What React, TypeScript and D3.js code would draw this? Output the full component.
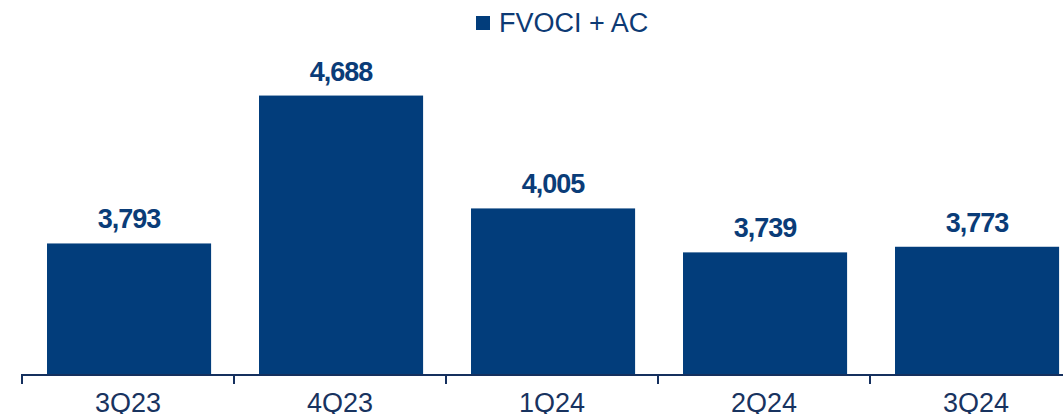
import React from "react";
import * as d3 from "d3";

const categories = ["3Q23", "4Q23", "1Q24", "2Q24", "3Q24"];
const values = [3793, 4688, 4005, 3739, 3773];
const seriesName = "FVOCI + AC";

const W = 1063;
const H = 414;
const BAR = "#023d7b";
const AXIS = "#15305e";
const FONT = "'Liberation Sans', Arial, sans-serif";

export default function App() {
  const x = d3
    .scaleBand<string>()
    .domain(categories)
    .range([22, 22 + 212 * categories.length])
    .paddingInner(0.226)
    .paddingOuter(0.113)
    .align(0.522);
  const y = d3.scaleLinear().domain([3000, 5000]).range([374.5, 44]);
  const fmt = d3.format(",");
  const step = x.step();
  const tickXs = categories.map((_, i) => 22 + step * i).concat([22 + step * categories.length]);

  return (
    <svg
      width={W}
      height={H}
      style={{ position: "absolute", left: 0, top: 0, background: "#fff" }}
      fontFamily={FONT}
    >
      {/* legend */}
      <rect x={476} y={16} width={14} height={14} fill={BAR} />
      <text x={499} y={32} fontSize={27} fill="#0d3a74">
        {seriesName}
      </text>

      {/* bars */}
      {categories.map((c, i) => (
        <g key={c}>
          <rect
            x={x(c)!}
            y={y(values[i])}
            width={x.bandwidth()}
            height={y(3000) - y(values[i])}
            fill={BAR}
          />
          <text
            x={x(c)! + x.bandwidth() / 2}
            y={y(values[i]) - 15}
            textAnchor="middle"
            fontSize={27}
            fontWeight="bold"
            letterSpacing={-1}
            fill="#0a3c78"
          >
            {fmt(values[i])}
          </text>
          <text
            x={22 + step * i + step / 2}
            y={412}
            textAnchor="middle"
            fontSize={27}
            fill="#18335f"
          >
            {c}
          </text>
        </g>
      ))}

      {/* axis */}
      <line x1={22} x2={W} y1={375} y2={375} stroke={AXIS} strokeWidth={2} />
      {tickXs.map((tx, i) => (
        <line key={i} x1={tx} x2={tx} y1={374} y2={384} stroke={AXIS} strokeWidth={2} />
      ))}
    </svg>
  );
}
